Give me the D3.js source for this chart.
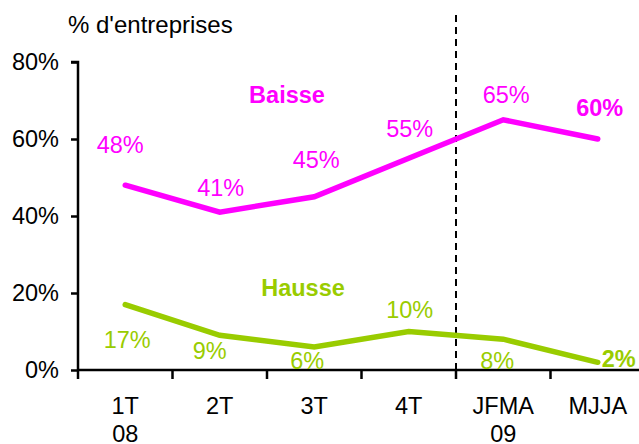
<!DOCTYPE html>
<html>
<head>
<meta charset="utf-8">
<script src="https://cdn.jsdelivr.net/npm/d3@7"></script>
<style>
  html, body { margin: 0; padding: 0; background: #fff; }
  svg { display: block; font-family: "Liberation Sans", Arial, Helvetica, sans-serif; }
</style>
</head>
<body>
<svg id="chart" width="639" height="444"></svg>
<script>
// Categories (two-line labels) and the two series, in %
const categories = ["1T|08", "2T", "3T", "4T", "JFMA|09", "MJJA"];
const baisse = [48, 41, 45, 55, 65, 60];
const hausse = [17, 9, 6, 10, 8, 2];
const yTicks = [0, 20, 40, 60, 80];

// Value-label placement relative to each point (dx, dy in px)
const baisseLabelOffsets = [[-5, -41], [1, -25], [2, -37], [1, -30], [3, -25], [2, -31]];
const hausseLabelOffsets = [[2, 35], [-10, 15], [-7, 14], [1, -22], [-6, 21], [21, -4]];

const magenta = "#ff00ff";
const green = "#99cc00";
const fs = 23.5;

const svg = d3.select("#chart");
const x = d3.scaleBand().domain(categories).range([78, 645]).padding(0);
const y = d3.scaleLinear().domain([0, 80]).range([370, 62]);
const cx = c => x(c) + x.bandwidth() / 2;

// Y axis
const yAxis = svg.append("g").attr("transform", "translate(78,0)")
  .call(d3.axisLeft(y).tickValues(yTicks).tickSize(7).tickPadding(12)
    .tickFormat(d => d + "%"));
yAxis.select(".domain").attr("stroke", "#000").attr("stroke-width", 2.5)
  .attr("d", `M-7,${y(80)}H0V${y(0)}`);
yAxis.selectAll(".tick line").attr("stroke", "#000").attr("stroke-width", 2.5);
yAxis.selectAll(".tick text").attr("font-size", fs).attr("fill", "#000")
  .attr("font-family", "Liberation Sans, Arial, sans-serif");

// X axis: baseline plus ticks on the category boundaries
svg.append("line").attr("x1", 77).attr("x2", 639).attr("y1", y(0)).attr("y2", y(0))
  .attr("stroke", "#000").attr("stroke-width", 2.5);
const bounds = categories.map(c => x(c)).concat([x.range()[1]]);
svg.append("g").selectAll("line").data(bounds).join("line")
  .attr("x1", d => d).attr("x2", d => d)
  .attr("y1", y(0)).attr("y2", y(0) + 9)
  .attr("stroke", "#000").attr("stroke-width", 2.5);

const xl = svg.append("g").selectAll("text").data(categories).join("text")
  .attr("text-anchor", "middle").attr("font-size", fs).attr("fill", "#000");
xl.each(function (c) {
  const parts = c.split("|");
  d3.select(this).selectAll("tspan").data(parts).join("tspan")
    .attr("x", cx(c)).attr("y", (d, i) => 414 + i * 28).text(d => d);
});

// Separator between 2008 and 2009
svg.append("line")
  .attr("x1", x("JFMA|09")).attr("x2", x("JFMA|09"))
  .attr("y1", 15).attr("y2", y(0) + 9)
  .attr("stroke", "#000").attr("stroke-width", 2).attr("stroke-dasharray", "7,5");

// Axis title
svg.append("text").attr("x", 68).attr("y", 33).attr("font-size", 24)
  .attr("fill", "#000").text("% d'entreprises");

// Lines
const line = d3.line().x((d, i) => cx(categories[i])).y(d => y(d));
[[baisse, magenta], [hausse, green]].forEach(([data, color]) => {
  svg.append("path").datum(data).attr("d", line)
    .attr("fill", "none").attr("stroke", color).attr("stroke-width", 5.5)
    .attr("stroke-linecap", "round").attr("stroke-linejoin", "miter");
});

// Value labels (last value in bold)
function labels(data, offsets, color) {
  svg.append("g").selectAll("text").data(data).join("text")
    .attr("x", (d, i) => cx(categories[i]) + offsets[i][0])
    .attr("y", (d, i) => y(d) + offsets[i][1])
    .attr("dy", "0.36em").attr("text-anchor", "middle")
    .attr("font-size", fs).attr("fill", color)
    .attr("font-weight", (d, i) => i === data.length - 1 ? "bold" : "normal")
    .text(d => d + "%");
}
labels(baisse, baisseLabelOffsets, magenta);
labels(hausse, hausseLabelOffsets, green);

// Series names
svg.append("text").attr("x", 287).attr("y", 95).attr("dy", "0.36em")
  .attr("text-anchor", "middle").attr("font-size", fs).attr("font-weight", "bold")
  .attr("fill", magenta).text("Baisse");
svg.append("text").attr("x", 303).attr("y", 288).attr("dy", "0.36em")
  .attr("text-anchor", "middle").attr("font-size", fs).attr("font-weight", "bold")
  .attr("fill", green).text("Hausse");
</script>
</body>
</html>
